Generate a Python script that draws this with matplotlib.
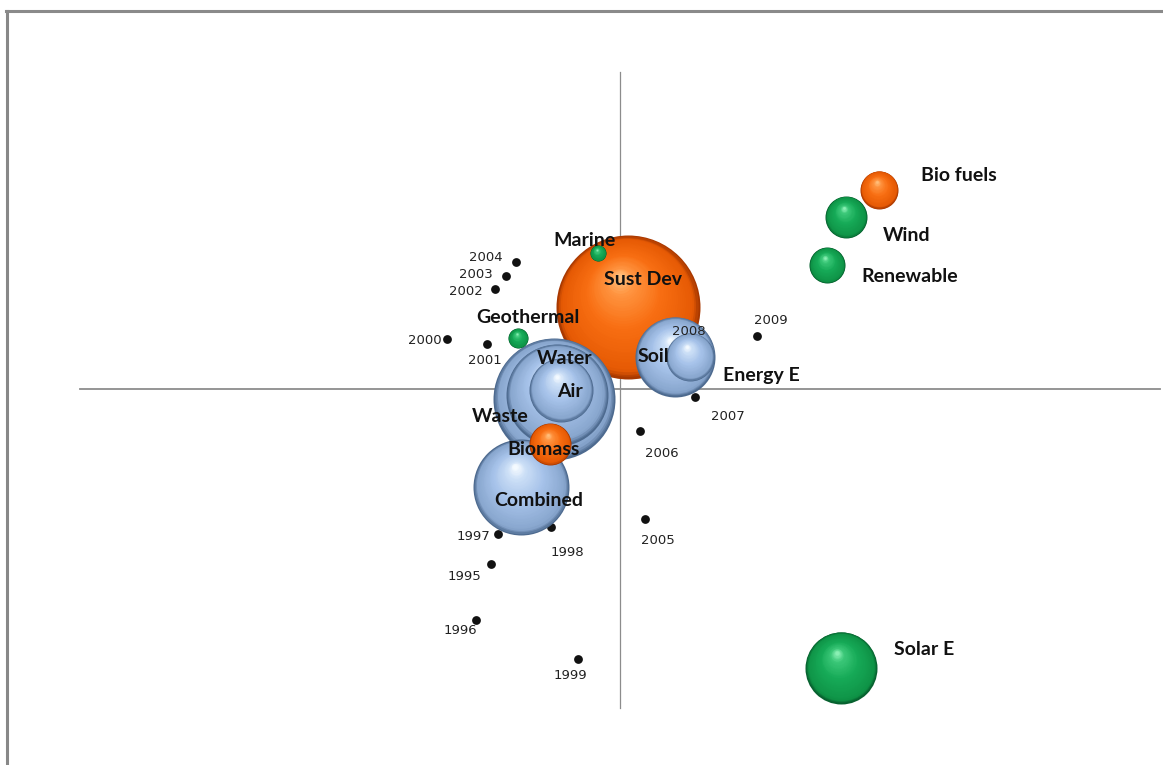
import matplotlib
matplotlib.use("Agg")
import matplotlib.pyplot as plt
from matplotlib.colors import LinearSegmentedColormap
from matplotlib.transforms import offset_copy
from matplotlib.lines import Line2D

# ---------------- data ----------------
bubble_names = ["Sust Dev", "Waste", "Water", "Air", "Combined", "Biomass",
                "Soil", "Energy E", "Marine", "Geothermal", "Bio fuels",
                "Wind", "Renewable", "Solar E"]
bubble_x = [0.022, -0.183, -0.175, -0.164, -0.275, -0.194,
            0.153, 0.194, -0.061, -0.283, 0.719, 0.628, 0.575, 0.614]
bubble_y = [0.232, -0.028, -0.017, -0.003, -0.278, -0.156,
            0.091, 0.091, 0.385, 0.144, 0.564, 0.487, 0.351, -0.790]
bubble_size = [7.2, 6.1, 5.1, 3.2, 4.8, 2.1, 4.0, 2.4, 0.8, 1.0, 1.9, 2.1, 1.8, 3.6]
bubble_group = ["orange", "blue", "blue", "blue", "blue", "orange",
                "blue", "blue", "green", "green", "orange", "green", "green", "green"]

years = ["1995", "1996", "1997", "1998", "1999", "2000", "2001", "2002",
         "2003", "2004", "2005", "2006", "2007", "2008", "2009"]
year_x = [-0.358, -0.400, -0.339, -0.192, -0.117, -0.481, -0.369, -0.347,
          -0.317, -0.289, 0.069, 0.056, 0.208, 0.156, 0.381]
year_y = [-0.496, -0.654, -0.411, -0.391, -0.765, 0.142, 0.127, 0.283,
          0.320, 0.360, -0.368, -0.119, -0.023, 0.207, 0.150]

axis_x_extent = [-1.5, 1.5]
axis_y_extent = [-0.904, 0.898]

# ---------------- styling (label offsets in pixels) ----------------
bubble_label_off = {
    "Sust Dev": (15, -28), "Marine": (-14, -13), "Geothermal": (10, -21),
    "Water": (8, -37), "Air": (9, 1), "Waste": (-54, 18), "Biomass": (-7, 5),
    "Combined": (18, 13), "Soil": (-22, 0), "Energy E": (72, 19),
    "Bio fuels": (80, -14), "Wind": (61, 18), "Renewable": (83, 11),
    "Solar E": (83, -18),
}
year_label_off = [(-27, 12), (-16, 11), (-25, 2), (16, 25), (-8, 16), (-22, 2),
                  (-2, 16), (-29, 2), (-30, -2), (-30, -4), (13, 22), (22, 22),
                  (33, 19), (13, 16), (14, -16)]

cmaps = {
    "orange": LinearSegmentedColormap.from_list(
        "o", [(0, "#a83800"), (0.08, "#e65a04"), (0.5, "#f86e12"),
              (0.85, "#ff9440"), (1, "#ffbe7a")]),
    "blue": LinearSegmentedColormap.from_list(
        "b", [(0, "#4d6a8f"), (0.08, "#88a6ce"), (0.5, "#a7c3ea"),
              (0.85, "#cde0f7"), (1, "#f4faff")]),
    "green": LinearSegmentedColormap.from_list(
        "g", [(0, "#07612f"), (0.08, "#0f9447"), (0.5, "#16aa57"),
              (0.85, "#3cc879"), (1, "#8af0b4")]),
}

W, H, DPI = 1163, 765, 100
fig = plt.figure(figsize=(W / DPI, H / DPI), dpi=DPI)
fig.patch.set_facecolor("white")
ax = fig.add_axes([0, 0, 1, 1])
px_x, px_y = 360.0, 353.0
ax.set_xlim(-620 / px_x, (W - 620) / px_x)
ax.set_ylim((389 - H) / px_y, 389 / px_y)
ax.axis("off")

# outer frame (top and left edges visible)
fig.add_artist(Line2D([7.0 / W, 7.0 / W], [0, 1 - 10.5 / H], transform=fig.transFigure,
                      color="#888888", lw=2.2))
fig.add_artist(Line2D([6.0 / W, 1], [1 - 10.5 / H, 1 - 10.5 / H], transform=fig.transFigure,
                      color="#8a8a8a", lw=2.2))

# axes lines
ax.plot(axis_x_extent, [0, 0], color="#8c8c8c", lw=1.3, zorder=1)
ax.plot([0, 0], axis_y_extent, color="#8c8c8c", lw=0.9, zorder=1)

# year points
ax.scatter(year_x, year_y, s=40, color="#111111", zorder=2, linewidths=0)
for yr, xx, yy, (ox, oy) in zip(years, year_x, year_y, year_label_off):
    ax.annotate(yr, (xx, yy), xytext=(ox * 0.72, -oy * 0.72), textcoords="offset points",
                ha="center", va="center", fontsize=9.5, color="#222222",
                family="DejaVu Sans", zorder=50)

# bubbles as shaded spheres
n = 40
z = 10
scale_px = 10.0  # bubble size unit -> pixels radius
for name, bx, by, bs, grp in zip(bubble_names, bubble_x, bubble_y, bubble_size, bubble_group):
    rp = bs * scale_px * 0.72  # radius in points
    cm = cmaps[grp]
    for k in range(n):
        t = k / (n - 1)
        rk = rp * (1 - 0.95 * t)
        dx = -0.12 * rp * t
        dy = 0.42 * rp * t
        tr = offset_copy(ax.transData, fig=fig, x=dx, y=dy, units="points")
        ax.scatter([bx], [by], s=(2 * rk) ** 2, color=cm(t), transform=tr,
                   linewidths=0, zorder=z)
        z += 0.001
    z += 1

for name, bx, by in zip(bubble_names, bubble_x, bubble_y):
    ox, oy = bubble_label_off[name]
    ax.annotate(name, (bx, by), xytext=(ox * 0.72, -oy * 0.72), textcoords="offset points",
                ha="center", va="center", fontsize=14, fontweight="bold",
                color="#111111", family="Lato", zorder=60)

fig.savefig("out.png", dpi=DPI, facecolor="white")
